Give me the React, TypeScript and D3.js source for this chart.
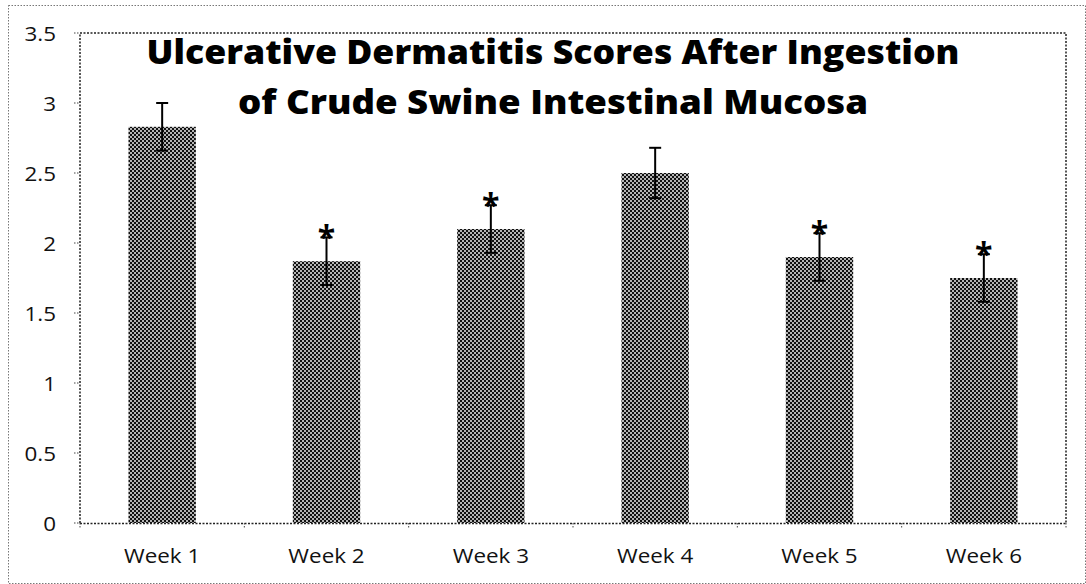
import React, { useEffect, useRef } from 'react';
import * as d3 from 'd3';

const weeks = ['Week 1', 'Week 2', 'Week 3', 'Week 4', 'Week 5', 'Week 6'];
const scores = [2.83, 1.87, 2.1, 2.5, 1.9, 1.75];
const errors = [0.17, 0.17, 0.17, 0.18, 0.17, 0.17];
const significant = [false, true, true, false, true, true];
const yTicks = [0, 0.5, 1, 1.5, 2, 2.5, 3, 3.5];
const titleLines = ['Ulcerative Dermatitis Scores After Ingestion', 'of Crude Swine Intestinal Mucosa'];

// the source image is a little stretched sideways
const STRETCH = 1.12;

const App: React.FC = () => {
  const svgRef = useRef<SVGSVGElement>(null);

  useEffect(() => {
    if (!svgRef.current) return;
    const W = 1086, H = 584;
    const plot = { left: 80, top: 33, right: 1066, bottom: 523 };
    const font = '"Open Sans", sans-serif';

    d3.select(svgRef.current).selectAll('*').remove();
    const svg = d3.select(svgRef.current).attr('width', W).attr('height', H);

    const widen = (sel: d3.Selection<SVGTextElement, unknown, null, undefined>, factor: number) => {
      const node = sel.node();
      if (!node) return;
      const len = node.getComputedTextLength();
      sel.attr('textLength', len * factor).attr('lengthAdjust', 'spacingAndGlyphs');
    };

    const defs = svg.append('defs');
    const pat = defs.append('pattern')
      .attr('id', 'checker')
      .attr('width', 4).attr('height', 4)
      .attr('patternUnits', 'userSpaceOnUse');
    pat.append('rect').attr('width', 4).attr('height', 4).attr('fill', '#b5b5b5');
    pat.append('rect').attr('x', 0).attr('y', 0).attr('width', 2).attr('height', 2).attr('fill', '#111');
    pat.append('rect').attr('x', 2).attr('y', 2).attr('width', 2).attr('height', 2).attr('fill', '#111');

    // outer chart border
    svg.append('rect')
      .attr('x', 8.5).attr('y', 5.5).attr('width', W - 9).attr('height', H - 6)
      .attr('fill', 'none').attr('stroke', '#777').attr('stroke-width', 1)
      .attr('stroke-dasharray', '1.5,1.5');

    const x = d3.scaleBand()
      .domain(weeks)
      .range([plot.left, plot.right])
      .paddingInner(0.59)
      .paddingOuter(0.295);

    const y = d3.scaleLinear()
      .domain([0, 3.5])
      .range([plot.bottom, plot.top]);

    // plot frame
    svg.append('path')
      .attr('d', `M${plot.left},${plot.bottom}V${plot.top}H${plot.right}V${plot.bottom}`)
      .attr('fill', 'none').attr('stroke', '#222').attr('stroke-width', 1.5)
      .attr('stroke-dasharray', '2,1.5');

    // bars
    svg.selectAll('rect.bar')
      .data(scores)
      .enter()
      .append('rect')
      .attr('class', 'bar')
      .attr('x', (d, i) => x(weeks[i]) as number)
      .attr('width', x.bandwidth())
      .attr('y', d => y(d))
      .attr('height', d => y(0) - y(d))
      .attr('fill', 'url(#checker)');

    // x axis line
    svg.append('line')
      .attr('x1', plot.left).attr('x2', plot.right)
      .attr('y1', plot.bottom + 0.5).attr('y2', plot.bottom + 0.5)
      .attr('stroke', '#222').attr('stroke-width', 1.5)
      .attr('stroke-dasharray', '2,1.5');

    // x ticks at category boundaries
    const step = x.step();
    d3.range(weeks.length + 1).forEach(i => {
      const xp = plot.left + i * step;
      svg.append('line')
        .attr('x1', xp).attr('x2', xp)
        .attr('y1', plot.bottom).attr('y2', plot.bottom + 6)
        .attr('stroke', '#444').attr('stroke-dasharray', '1.5,1.5');
    });

    // y ticks + labels
    yTicks.forEach(t => {
      svg.append('line')
        .attr('x1', plot.left - 6).attr('x2', plot.left)
        .attr('y1', y(t)).attr('y2', y(t))
        .attr('stroke', '#444').attr('stroke-dasharray', '1.5,1.5');
      const lbl = svg.append('text')
        .attr('x', 56).attr('y', y(t) + 8)
        .attr('text-anchor', 'end')
        .attr('font-family', font)
        .attr('font-size', 20)
        .attr('fill', '#111')
        .text(String(t));
      widen(lbl, STRETCH);
    });

    // x labels
    weeks.forEach(w => {
      const lbl = svg.append('text')
        .attr('x', (x(w) as number) + x.bandwidth() / 2)
        .attr('y', 563)
        .attr('text-anchor', 'middle')
        .attr('font-family', font)
        .attr('font-size', 20)
        .attr('fill', '#111')
        .text(w);
      widen(lbl, STRETCH);
    });

    // error bars
    scores.forEach((s, i) => {
      const cx = (x(weeks[i]) as number) + x.bandwidth() / 2;
      const e = errors[i];
      const g = svg.append('g').attr('stroke', '#000').attr('stroke-width', 2);
      g.append('line').attr('x1', cx).attr('x2', cx).attr('y1', y(s - e)).attr('y2', y(s + e));
      g.append('line').attr('x1', cx - 6).attr('x2', cx + 6).attr('y1', y(s + e)).attr('y2', y(s + e));
      g.append('line').attr('x1', cx - 6).attr('x2', cx + 6).attr('y1', y(s - e)).attr('y2', y(s - e));
      if (significant[i]) {
        svg.append('text')
          .attr('x', cx)
          .attr('y', y(s + e) + 12)
          .attr('text-anchor', 'middle')
          .attr('font-family', font)
          .attr('font-weight', 'bold')
          .attr('font-size', 32)
          .attr('fill', '#000')
          .text('*');
      }
    });

    // title
    const titleWidths = [813, 630];
    titleLines.forEach((line, i) => {
      svg.append('text')
        .attr('x', 553)
        .attr('y', 64 + i * 50)
        .attr('text-anchor', 'middle')
        .attr('font-family', font)
        .attr('font-weight', 800)
        .attr('font-size', 34)
        .attr('fill', '#000')
        .attr('textLength', titleWidths[i])
        .attr('lengthAdjust', 'spacingAndGlyphs')
        .text(line);
    });
  }, []);

  return <svg ref={svgRef} style={{ display: 'block', position: 'absolute', left: 0, top: 0 }}></svg>;
};

export default App;
